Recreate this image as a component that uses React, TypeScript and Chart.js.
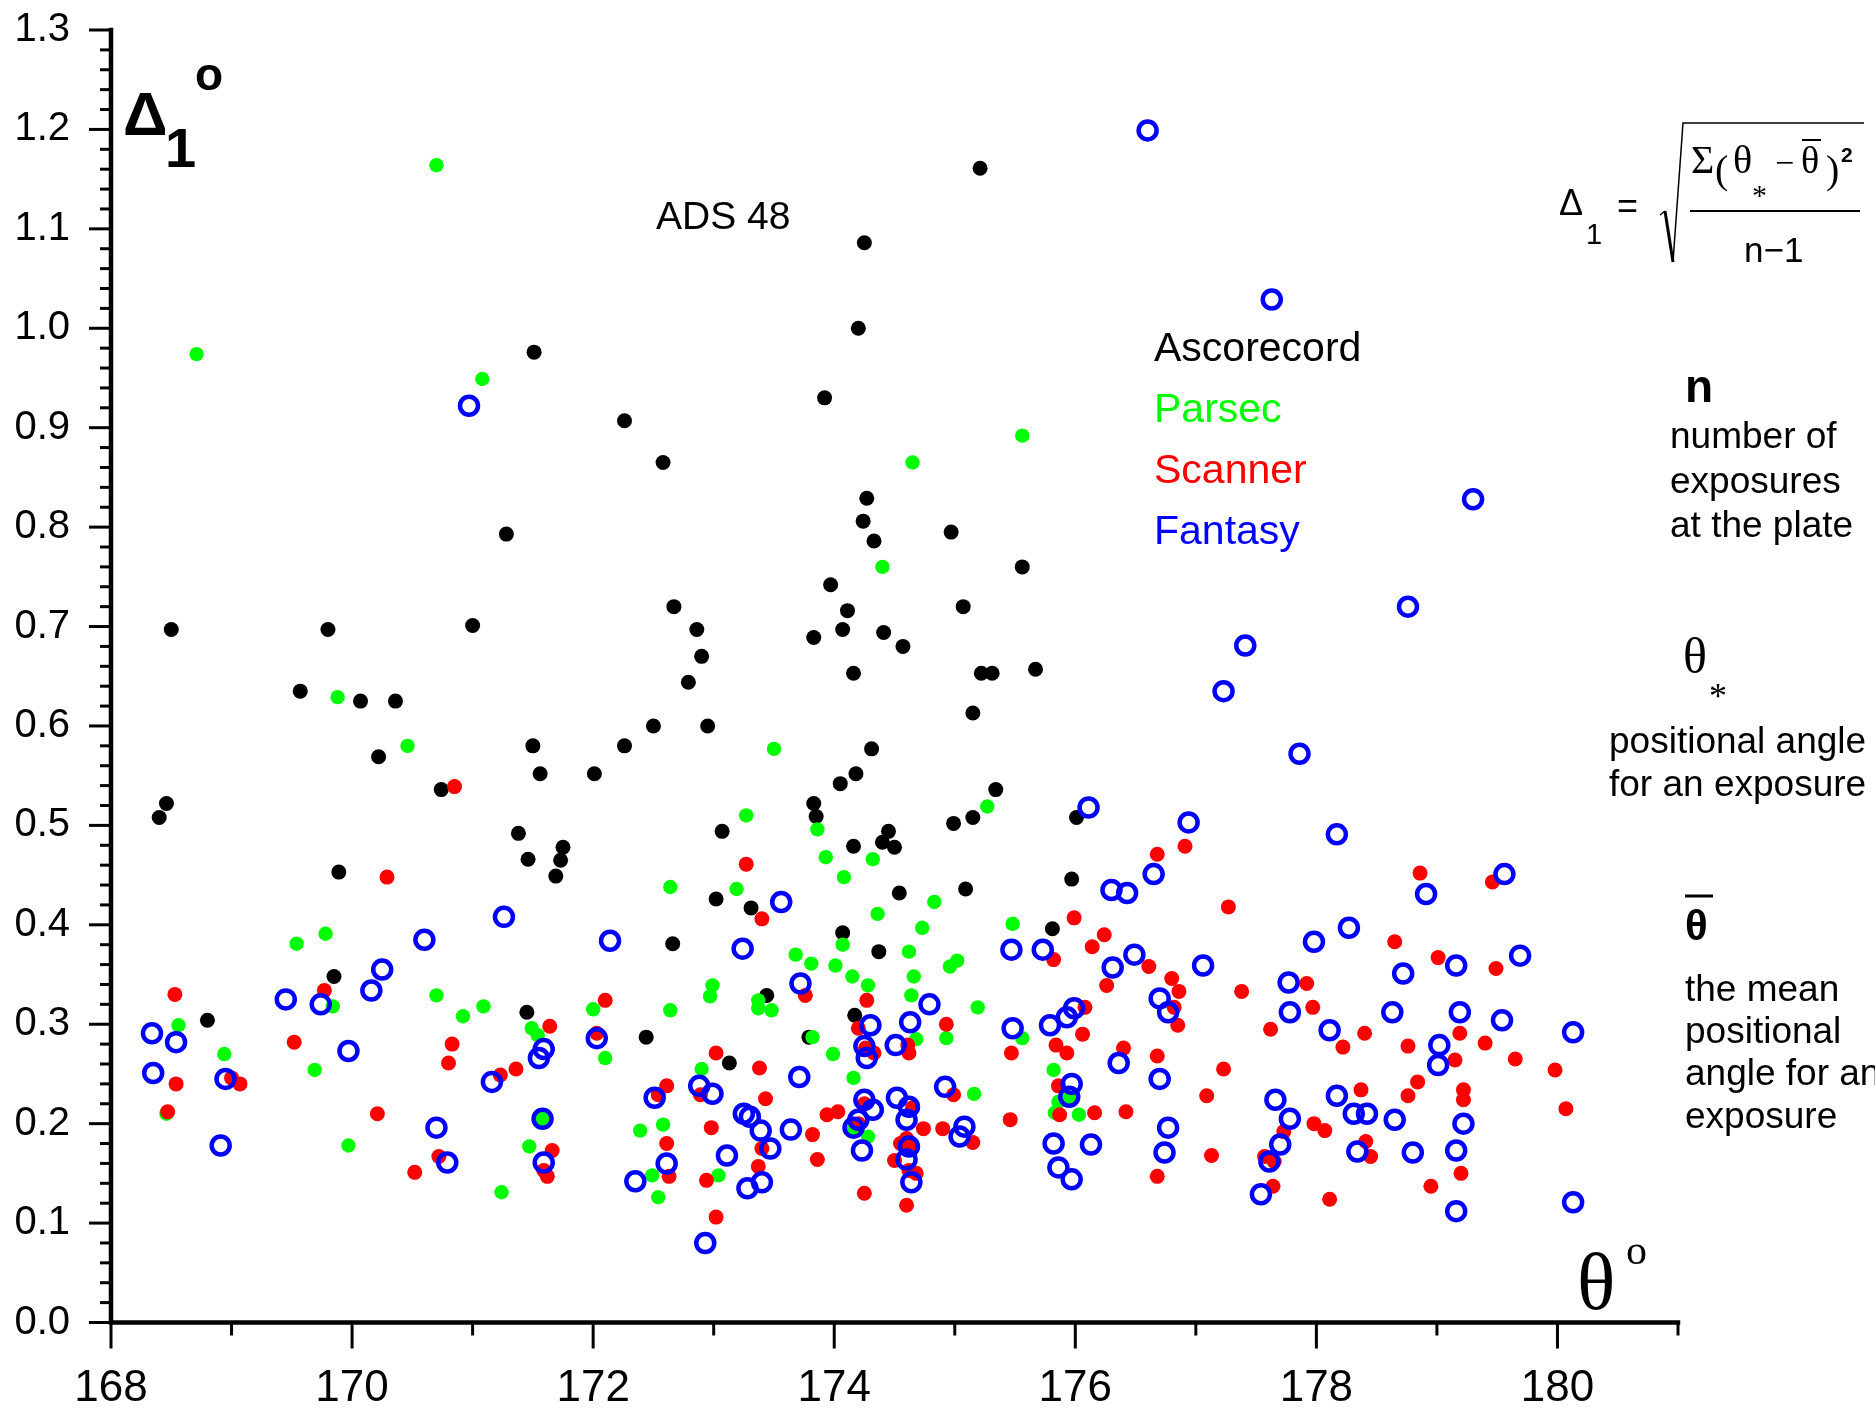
import React, { useEffect, useRef } from 'react';
import { Chart, registerables } from 'chart.js';

Chart.register(...registerables);

// ---------- data ----------
const X_TICKS = [168, 170, 172, 174, 176, 178, 180];
const Y_TICKS = [0, 0.1, 0.2, 0.3, 0.4, 0.5, 0.6, 0.7, 0.8, 0.9, 1.0, 1.1, 1.2, 1.3];
const X_MIN = 168;
const X_MAX = 181;
const Y_MIN = 0;
const Y_MAX = 1.3;

const SERIES_NAMES = ['Ascorecord', 'Parsec', 'Scanner', 'Fantasy'];
const SERIES_COLORS = ['#000000', '#00ff00', '#ff0000', '#0000ff'];

const ASCORECORD: [number, number][] = [
  [168.40, 0.508], [168.46, 0.522], [168.50, 0.697], [168.80, 0.304], [169.57, 0.635], [169.80, 0.697],
  [169.85, 0.348], [169.89, 0.453], [170.07, 0.625], [170.22, 0.569], [170.36, 0.625], [170.74, 0.536],
  [171.00, 0.701], [171.28, 0.793], [171.38, 0.492], [171.46, 0.466], [171.45, 0.312], [171.50, 0.580],
  [171.51, 0.976], [171.56, 0.552], [171.69, 0.449], [171.73, 0.465], [171.75, 0.478], [172.01, 0.552],
  [172.26, 0.907], [172.26, 0.580], [172.44, 0.287], [172.50, 0.600], [172.58, 0.865], [172.66, 0.381],
  [172.67, 0.720], [172.79, 0.644], [172.86, 0.697], [172.90, 0.670], [172.95, 0.600], [173.02, 0.426],
  [173.07, 0.494], [173.13, 0.261], [173.31, 0.417], [173.44, 0.329], [173.79, 0.287], [173.83, 0.689],
  [173.83, 0.522], [173.85, 0.509], [173.92, 0.930], [173.97, 0.742], [174.05, 0.542], [174.07, 0.392],
  [174.07, 0.697], [174.11, 0.716], [174.16, 0.653], [174.16, 0.479], [174.18, 0.552], [174.17, 0.309],
  [174.20, 1.000], [174.24, 0.806], [174.25, 1.086], [174.27, 0.829], [174.31, 0.577], [174.33, 0.786],
  [174.37, 0.373], [174.40, 0.483], [174.41, 0.694], [174.45, 0.494], [174.50, 0.478], [174.54, 0.432],
  [174.57, 0.680], [174.97, 0.795], [174.99, 0.502], [175.07, 0.720], [175.09, 0.436], [175.15, 0.613],
  [175.15, 0.508], [175.21, 1.161], [175.22, 0.653], [175.31, 0.653], [175.34, 0.536], [175.56, 0.760],
  [175.67, 0.657], [175.81, 0.396], [175.97, 0.446], [176.01, 0.508],
];

const PARSEC: [number, number][] = [
  [168.71, 0.974], [171.08, 0.949], [170.70, 1.164], [169.88, 0.629], [170.46, 0.580], [175.56, 0.892],
  [174.65, 0.865], [174.40, 0.760], [173.50, 0.577], [175.27, 0.519], [173.27, 0.510],
  [169.78, 0.391], [169.54, 0.381], [168.56, 0.299], [168.94, 0.270], [169.84, 0.318], [169.69, 0.254],
  [170.70, 0.329], [171.09, 0.318], [170.92, 0.308], [169.97, 0.178], [168.46, 0.210], [171.24, 0.131],
  [173.86, 0.496], [173.93, 0.468], [174.32, 0.466], [174.08, 0.448], [172.64, 0.438], [173.19, 0.436],
  [174.36, 0.411], [174.73, 0.397], [174.07, 0.380], [173.68, 0.370], [173.81, 0.361], [174.01, 0.359],
  [174.62, 0.373], [174.66, 0.348], [174.15, 0.348], [174.28, 0.339], [174.64, 0.329], [172.99, 0.339],
  [172.97, 0.328], [172.64, 0.314], [173.37, 0.324], [173.37, 0.316], [173.48, 0.314], [172.00, 0.315],
  [173.82, 0.287], [173.99, 0.270], [174.68, 0.285], [172.10, 0.266], [171.49, 0.296], [171.54, 0.289],
  [172.90, 0.255], [174.16, 0.246], [171.58, 0.205], [172.39, 0.193], [172.58, 0.199], [171.47, 0.177],
  [172.49, 0.148], [172.54, 0.126], [173.04, 0.148], [174.16, 0.195], [174.28, 0.187],
  [174.83, 0.423], [175.48, 0.401], [175.02, 0.364], [174.96, 0.358], [175.19, 0.317], [174.93, 0.286],
  [175.56, 0.286], [175.82, 0.254], [175.16, 0.230], [175.86, 0.222], [175.83, 0.211], [176.03, 0.209],
  [175.95, 0.226],
];

const SCANNER: [number, number][] = [
  [170.29, 0.448], [168.53, 0.330], [169.77, 0.334], [169.52, 0.282], [168.54, 0.240], [168.47, 0.212],
  [169.00, 0.246], [169.07, 0.240], [170.21, 0.210], [170.83, 0.280], [170.80, 0.261], [171.23, 0.249],
  [171.36, 0.255], [170.72, 0.167], [170.52, 0.151], [170.85, 0.539],
  [173.27, 0.461], [172.10, 0.324], [171.64, 0.298], [172.03, 0.291], [173.40, 0.406], [173.76, 0.329],
  [174.27, 0.324], [174.20, 0.296], [174.26, 0.276], [174.33, 0.271], [174.61, 0.279], [174.62, 0.271],
  [173.02, 0.271], [173.38, 0.256], [172.61, 0.238], [172.54, 0.229], [172.89, 0.229], [173.43, 0.225],
  [173.94, 0.209], [174.03, 0.212], [174.25, 0.220], [174.65, 0.216], [172.98, 0.196], [173.82, 0.189],
  [174.20, 0.200], [171.66, 0.173], [172.61, 0.180], [173.40, 0.175], [173.86, 0.164], [174.62, 0.177],
  [174.50, 0.163], [171.62, 0.147], [171.59, 0.153], [172.63, 0.147], [172.94, 0.143], [173.37, 0.157],
  [174.25, 0.130], [174.60, 0.118], [173.02, 0.106], [174.62, 0.153], [174.60, 0.185],
  [176.91, 0.479], [176.68, 0.471], [177.27, 0.418], [175.99, 0.407], [176.24, 0.390], [176.14, 0.378],
  [175.82, 0.365], [176.61, 0.358], [176.26, 0.339], [176.80, 0.346], [176.86, 0.333], [177.38, 0.333],
  [177.92, 0.341], [177.97, 0.317], [177.62, 0.295], [176.08, 0.317], [176.06, 0.290], [176.82, 0.317],
  [176.85, 0.299], [174.93, 0.300], [175.84, 0.279], [175.93, 0.271], [175.47, 0.271], [176.40, 0.276],
  [176.68, 0.268], [177.23, 0.255], [177.09, 0.228], [174.99, 0.229], [175.86, 0.238], [176.16, 0.211],
  [176.42, 0.212], [175.87, 0.209], [175.46, 0.204], [174.74, 0.195], [174.90, 0.195], [175.15, 0.181],
  [174.55, 0.180], [174.68, 0.150], [177.13, 0.168], [176.68, 0.147], [177.98, 0.200], [177.73, 0.192],
  [177.57, 0.167], [177.65, 0.162], [177.64, 0.137],
  [178.86, 0.452], [179.46, 0.443], [178.65, 0.383], [179.01, 0.367], [179.49, 0.356], [178.40, 0.291],
  [178.22, 0.277], [178.76, 0.278], [179.19, 0.291], [179.40, 0.281], [179.15, 0.264], [179.65, 0.265],
  [179.98, 0.254], [178.84, 0.242], [178.76, 0.228], [178.37, 0.234], [179.22, 0.234], [179.22, 0.224],
  [180.07, 0.215], [178.07, 0.193], [178.41, 0.182], [178.45, 0.167], [179.20, 0.150], [178.95, 0.137],
  [178.11, 0.124],
];

const FANTASY: [number, number][] = [
  [176.60, 1.199], [177.63, 1.029], [170.97, 0.922], [179.30, 0.828], [178.76, 0.720], [177.41, 0.681],
  [177.23, 0.635], [177.86, 0.572], [176.11, 0.518], [176.94, 0.503], [178.17, 0.491],
  [168.34, 0.291], [168.54, 0.282], [168.35, 0.251], [168.95, 0.245], [168.91, 0.178], [169.45, 0.325],
  [169.74, 0.320], [169.97, 0.273], [170.16, 0.334], [170.25, 0.355], [170.60, 0.385], [171.26, 0.408],
  [171.16, 0.242], [170.70, 0.196], [170.79, 0.161],
  [172.14, 0.384], [173.56, 0.423], [173.24, 0.376], [173.72, 0.341], [172.03, 0.286], [171.59, 0.275],
  [171.55, 0.266], [171.58, 0.205], [171.59, 0.161], [172.51, 0.226], [172.88, 0.238], [172.99, 0.230],
  [173.71, 0.247], [173.25, 0.210], [173.30, 0.207], [173.39, 0.193], [173.64, 0.194], [173.47, 0.175],
  [173.11, 0.168], [172.61, 0.160], [172.35, 0.142], [173.28, 0.135], [173.40, 0.141], [172.93, 0.080],
  [174.30, 0.299], [174.63, 0.302], [174.25, 0.278], [174.27, 0.266], [174.51, 0.279], [174.25, 0.224],
  [174.32, 0.214], [174.20, 0.204], [174.16, 0.196], [174.23, 0.173], [174.52, 0.226], [174.62, 0.217],
  [174.60, 0.204], [174.62, 0.177], [174.60, 0.164], [174.64, 0.141],
  [176.65, 0.451], [176.30, 0.435], [176.43, 0.432], [175.47, 0.375], [175.73, 0.375], [176.31, 0.357],
  [176.49, 0.370], [177.06, 0.359], [177.98, 0.383], [177.77, 0.342], [177.78, 0.312], [174.79, 0.320],
  [175.48, 0.296], [175.79, 0.299], [175.93, 0.307], [175.99, 0.316], [176.70, 0.326], [176.77, 0.312],
  [176.36, 0.261], [176.70, 0.245], [174.92, 0.237], [175.97, 0.240], [175.95, 0.227], [175.08, 0.197],
  [175.04, 0.187], [175.82, 0.180], [175.86, 0.156], [175.97, 0.144], [176.13, 0.179], [176.77, 0.196],
  [176.74, 0.171], [177.66, 0.224], [177.78, 0.205], [177.70, 0.179], [177.61, 0.162], [177.54, 0.129],
  [179.56, 0.451], [178.91, 0.431], [178.27, 0.397], [179.69, 0.369], [179.16, 0.359], [178.72, 0.351],
  [178.63, 0.312], [179.19, 0.312], [179.54, 0.304], [178.11, 0.294], [180.13, 0.292], [179.02, 0.279],
  [179.01, 0.259], [178.17, 0.228], [178.31, 0.210], [178.42, 0.210], [178.65, 0.204], [179.22, 0.200],
  [178.34, 0.172], [178.80, 0.171], [179.16, 0.173], [179.16, 0.112], [180.13, 0.121],
];

const TITLE_TEXT = 'ADS 48';

// ---------- styling ----------
const SANS = '"Liberation Sans", Arial, sans-serif';
const SERIF = '"Liberation Serif", "Times New Roman", serif';

const toPts = (arr: [number, number][]) => arr.map(([x, y]) => ({ x, y }));

function text(ctx: CanvasRenderingContext2D, s: string, x: number, y: number, font: string, color = '#000') {
  ctx.font = font;
  ctx.fillStyle = color;
  ctx.textAlign = 'left';
  ctx.textBaseline = 'alphabetic';
  ctx.fillText(s, x, y);
}

function line(ctx: CanvasRenderingContext2D, pts: number[][], w: number) {
  ctx.beginPath();
  ctx.lineWidth = w;
  ctx.strokeStyle = '#000';
  ctx.moveTo(pts[0][0], pts[0][1]);
  for (let i = 1; i < pts.length; i++) ctx.lineTo(pts[i][0], pts[i][1]);
  ctx.stroke();
}

const axesPlugin = {
  id: 'customAxes',
  beforeDatasetsDraw(chart: any) {
    const { ctx, chartArea: a, scales } = chart;
    const xs = scales.x;
    const ys = scales.y;
    ctx.save();
    ctx.lineCap = 'square';
    line(ctx, [[a.left, a.top], [a.left, a.bottom], [a.right, a.bottom]], 4.5);
    ctx.lineCap = 'butt';
    for (let v = X_MIN; v <= X_MAX; v++) {
      const px = xs.getPixelForValue(v);
      const len = v % 2 === 0 ? 26 : 13;
      line(ctx, [[px, a.bottom], [px, a.bottom + len]], 3);
    }
    for (let i = 0; i <= 65; i++) {
      const py = ys.getPixelForValue(i * 0.02);
      const len = i % 5 === 0 ? 22 : 11;
      line(ctx, [[a.left - len, py], [a.left, py]], 3);
    }
    ctx.restore();
  },
  afterDraw(chart: any) {
    const { ctx } = chart;
    ctx.save();
    // y axis label
    text(ctx, 'Δ', 123, 135, `bold 62px ${SANS}`);
    text(ctx, '1', 165, 167, `bold 56px ${SANS}`);
    text(ctx, 'o', 195, 90, `bold 46px ${SANS}`);

    // title
    text(ctx, TITLE_TEXT, 656, 229, `39px ${SANS}`);

    // series names
    const baselines = [361, 422, 483, 544];
    SERIES_NAMES.forEach((n, i) => text(ctx, n, 1154, baselines[i], `41px ${SANS}`, SERIES_COLORS[i]));

    // formula
    text(ctx, 'Δ', 1559, 215, `36px ${SANS}`);
    text(ctx, '1', 1586, 244, `29px ${SANS}`);
    text(ctx, '=', 1617, 218, `36px ${SANS}`);
    line(ctx, [[1660, 215], [1665, 211]], 1.5);
    line(ctx, [[1665, 211], [1673, 262]], 3);
    line(ctx, [[1673, 262], [1683, 123], [1864, 123]], 1.5);
    text(ctx, 'Σ', 1691, 173, `40px ${SERIF}`);
    text(ctx, '(', 1715, 183, `40px ${SERIF}`);
    text(ctx, 'θ', 1733, 173, `40px ${SERIF}`);
    text(ctx, '*', 1752, 205, `30px ${SERIF}`);
    text(ctx, '−', 1775, 174, `34px ${SERIF}`);
    text(ctx, 'θ', 1801, 173, `38px ${SERIF}`);
    line(ctx, [[1802, 140], [1821, 140]], 2);
    text(ctx, ')', 1826, 183, `40px ${SERIF}`);
    text(ctx, '2', 1841, 162, `bold 21px ${SANS}`);
    line(ctx, [[1690, 211], [1860, 211]], 1.8);
    text(ctx, 'n−1', 1744, 262, `35px ${SANS}`);

    // n description
    text(ctx, 'n', 1685, 402, `bold 46px ${SANS}`);
    text(ctx, 'number of', 1670, 448, `37px ${SANS}`);
    text(ctx, 'exposures', 1670, 493, `37px ${SANS}`);
    text(ctx, 'at the plate', 1670, 537, `37px ${SANS}`);

    // theta* description
    text(ctx, 'θ', 1683, 673, `50px ${SERIF}`);
    text(ctx, '*', 1709, 708, `36px ${SERIF}`);
    text(ctx, 'positional angle', 1609, 753, `37px ${SANS}`);
    text(ctx, 'for an exposure', 1609, 796, `37px ${SANS}`);

    // theta-bar description
    line(ctx, [[1685, 896], [1713, 896]], 3);
    text(ctx, 'θ', 1685, 940, `bold 42px ${SANS}`);
    text(ctx, 'the mean', 1685, 1001, `37px ${SANS}`);
    text(ctx, 'positional', 1685, 1043, `37px ${SANS}`);
    text(ctx, 'angle for an', 1685, 1085, `37px ${SANS}`);
    text(ctx, 'exposure', 1685, 1128, `37px ${SANS}`);

    // x axis label
    text(ctx, 'θ', 1577, 1309, `80px ${SERIF}`);
    text(ctx, 'o', 1626, 1264, `42px ${SERIF}`);
    ctx.restore();
  },
};

export default function App() {
  const ref = useRef<HTMLCanvasElement>(null);
  useEffect(() => {
    if (!ref.current) return;
    const filled = (label: string, data: [number, number][], color: string, r: number) => ({
      label,
      data: toPts(data),
      showLine: false,
      pointRadius: r,
      pointBackgroundColor: color,
      pointBorderColor: color,
      pointBorderWidth: 0,
      pointHoverRadius: r,
    });
    const chart = new Chart(ref.current, {
      type: 'scatter',
      data: {
        datasets: [
          {
            label: SERIES_NAMES[3],
            data: toPts(FANTASY),
            showLine: false,
            pointRadius: 9,
            pointBackgroundColor: 'rgba(0,0,0,0)',
            pointBorderColor: SERIES_COLORS[3],
            pointBorderWidth: 4.5,
            pointHoverRadius: 9,
          },
          filled(SERIES_NAMES[2], SCANNER, SERIES_COLORS[2], 7.5),
          filled(SERIES_NAMES[1], PARSEC, SERIES_COLORS[1], 7.2),
          filled(SERIES_NAMES[0], ASCORECORD, SERIES_COLORS[0], 7.5),
        ],
      },
      options: {
        responsive: false,
        animation: false,
        devicePixelRatio: 1,
        events: [],
        layout: { padding: { left: 0, top: 30, right: 197, bottom: 0 } },
        plugins: { legend: { display: false }, tooltip: { enabled: false }, title: { display: false } },
        scales: {
          x: {
            type: 'linear',
            position: 'bottom',
            min: X_MIN,
            max: X_MAX,
            grid: { display: false, drawTicks: true, tickLength: 40 },
            border: { display: false },
            afterBuildTicks: (s: any) => { s.ticks = X_TICKS.map((v) => ({ value: v })); },
            afterFit: (s: any) => { s.height = 88.5; },
            ticks: {
              autoSkip: false,
              maxRotation: 0,
              padding: 0,
              color: '#000',
              font: { family: SANS, size: 44 },
              callback: (v: any) => String(v),
            },
          },
          y: {
            type: 'linear',
            min: Y_MIN,
            max: Y_MAX,
            grid: { display: false, drawTicks: true, tickLength: 41 },
            border: { display: false },
            afterBuildTicks: (s: any) => { s.ticks = Y_TICKS.map((v) => ({ value: v })); },
            afterFit: (s: any) => { s.width = 111; },
            ticks: {
              autoSkip: false,
              padding: 0,
              color: '#000',
              font: { family: SANS, size: 40 },
              callback: (v: any) => Number(v).toFixed(1),
            },
          },
        },
      },
      plugins: [axesPlugin],
    } as any);
    return () => chart.destroy();
  }, []);
  return (
    <div style={{ position: 'absolute', left: 0, top: 0, width: 1875, height: 1411, background: '#fff' }}>
      <canvas ref={ref} width={1875} height={1411} style={{ display: 'block', width: 1875, height: 1411 }} />
    </div>
  );
}
